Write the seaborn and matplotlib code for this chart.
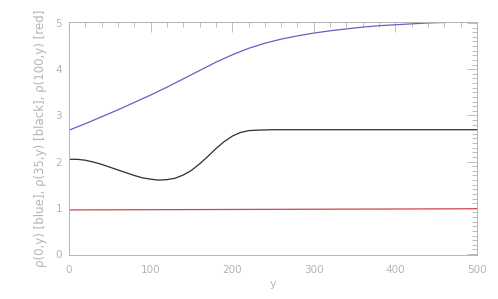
"""Density profiles rho(x, y) along y at three x positions."""

import matplotlib
matplotlib.use("Agg")
import matplotlib.pyplot as plt
import pandas as pd
import seaborn as sns
from matplotlib.ticker import MultipleLocator

# values
blue_y = [0, 20, 40, 60, 80, 100, 120, 140, 160, 180, 200, 220, 240, 260,
          280, 300, 320, 340, 360, 380, 400, 420, 440, 462]
blue_rho = [2.68, 2.82, 2.97, 3.12, 3.28, 3.44, 3.61, 3.79, 3.97, 4.15, 4.31,
            4.45, 4.56, 4.65, 4.72, 4.78, 4.83, 4.87, 4.91, 4.94, 4.96, 4.98,
            5.00, 5.01]

black_y = [0, 10, 20, 30, 40, 50, 60, 70, 80, 90, 100, 110, 120, 130, 140,
           150, 160, 170, 180, 190, 200, 210, 220, 230, 250, 300, 400, 500]
black_rho = [2.05, 2.05, 2.03, 1.99, 1.94, 1.88, 1.82, 1.76, 1.70, 1.65, 1.62,
             1.60, 1.61, 1.64, 1.71, 1.81, 1.95, 2.11, 2.28, 2.43, 2.55, 2.63,
             2.67, 2.68, 2.69, 2.69, 2.69, 2.69]

red_y = [0, 100, 200, 300, 400, 500]
red_rho = [0.955, 0.96, 0.965, 0.97, 0.975, 0.98]

x_ticks = [0, 100, 200, 300, 400, 500]
y_ticks = [0, 1, 2, 3, 4, 5]

GREY = "#b4b4b4"

sns.set_style("white")
plt.rcParams["font.family"] = ["DejaVu Sans"]

fig = plt.figure(figsize=(4.98, 2.99), dpi=100)
ax = fig.add_axes([69 / 498, 44 / 299, 408 / 498, 233 / 299])

for xs, ys, col in [
    (blue_y, blue_rho, "#6f5cc4"),
    (black_y, black_rho, "#2e2e2e"),
    (red_y, red_rho, "#d2454a"),
]:
    df = pd.DataFrame({"y": xs, "rho": ys})
    sns.lineplot(data=df, x="y", y="rho", color=col, lw=0.9, ax=ax)

ax.set_xlim(0, 500)
ax.set_ylim(-0.02, 5.02)
ax.set_xticks(x_ticks)
ax.set_yticks(y_ticks)
ax.xaxis.set_minor_locator(MultipleLocator(20))
ax.yaxis.set_minor_locator(MultipleLocator(0.1))
ax.tick_params(which="both", direction="in", top=True, right=True,
               color=GREY, width=0.6, labelcolor=GREY, labelsize=7.5)
ax.tick_params(which="major", length=7)
ax.tick_params(which="minor", length=3.5)
ax.tick_params(axis="x", pad=7)
ax.tick_params(axis="y", pad=5)
for sp in ax.spines.values():
    sp.set_color(GREY)
    sp.set_linewidth(0.7)

ax.set_xlabel("y", color=GREY, fontsize=8, labelpad=3)
ax.set_ylabel("ρ(0,y) [blue], ρ(35,y) [black], ρ(100,y) [red]",
              color=GREY, fontsize=8.5, labelpad=6)

fig.savefig("out.png", dpi=100)
